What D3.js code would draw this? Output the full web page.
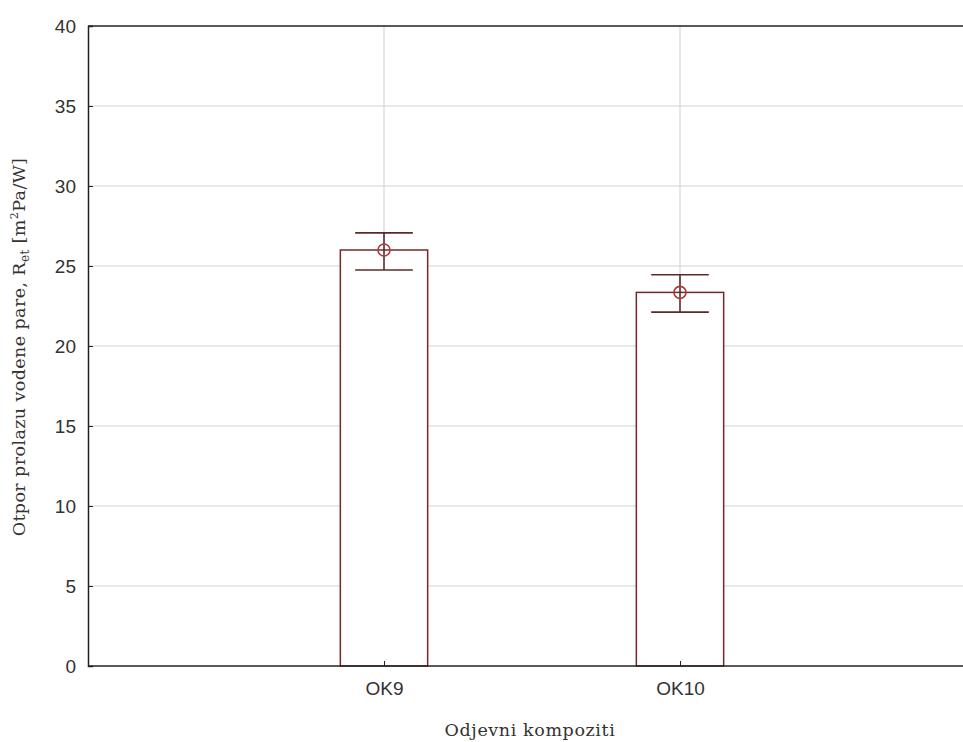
<!DOCTYPE html>
<html><head><meta charset="utf-8">
<script src="https://cdn.jsdelivr.net/npm/d3@7"></script>
<style>body{margin:0;background:#fff}svg{display:block}</style>
</head><body>
<svg id="c" width="963" height="742"></svg>
<script>
const categories = ["OK9", "OK10"];
const means = [26.0, 23.35];
const upper = [27.07, 24.45];
const lower = [24.75, 22.12];
const yTicks = [0, 5, 10, 15, 20, 25, 30, 35, 40];

(function () {
const svg = d3.select("#c");
const W = 963, H = 742;
const mLeft = 88, mTop = 26, mBottom = 666, mRight = 976;
const y = d3.scaleLinear().domain([0, 40]).range([mBottom, mTop]);
const x = d3.scalePoint().domain(categories).range([mLeft, mRight]).padding(1);
const step = x.step();
const bw = step * 0.295;
const barCol = "#7a2626", ptCol = "#b03838";

// grid
svg.append("g").selectAll("line").data(yTicks.filter(d => d > 0 && d < 40)).join("line")
  .attr("x1", mLeft).attr("x2", W).attr("y1", d => y(d)).attr("y2", d => y(d))
  .attr("stroke", "#d4d4d4").attr("stroke-width", 1.2);
svg.append("g").selectAll("line").data(categories).join("line")
  .attr("x1", d => x(d)).attr("x2", d => x(d)).attr("y1", mTop).attr("y2", mBottom)
  .attr("stroke", "#d4d4d4").attr("stroke-width", 1.2);

// bars
svg.append("g").selectAll("rect").data(categories).join("rect")
  .attr("x", d => x(d) - bw / 2).attr("width", bw)
  .attr("y", (d, i) => y(means[i])).attr("height", (d, i) => y(0) - y(means[i]))
  .attr("fill", "#fff").attr("stroke", barCol).attr("stroke-width", 1.5);

// error bars
const capW = bw * 0.66;
const eg = svg.append("g").attr("stroke", "#5a2a2a").attr("stroke-width", 1.6);
categories.forEach((c, i) => {
  eg.append("line").attr("x1", x(c)).attr("x2", x(c)).attr("y1", y(upper[i])).attr("y2", y(lower[i]));
  eg.append("line").attr("x1", x(c) - capW / 2).attr("x2", x(c) + capW / 2).attr("y1", y(upper[i])).attr("y2", y(upper[i]));
  eg.append("line").attr("x1", x(c) - capW / 2).attr("x2", x(c) + capW / 2).attr("y1", y(lower[i])).attr("y2", y(lower[i]));
});
svg.append("g").selectAll("circle").data(categories).join("circle")
  .attr("cx", d => x(d)).attr("cy", (d, i) => y(means[i])).attr("r", 6)
  .attr("fill", "none").attr("stroke", ptCol).attr("stroke-width", 1.6);

// frame
svg.append("line").attr("x1", mLeft).attr("x2", W).attr("y1", mTop).attr("y2", mTop).attr("stroke", "#222").attr("stroke-width", 1.5);
svg.append("line").attr("x1", mLeft).attr("x2", W).attr("y1", mBottom).attr("y2", mBottom).attr("stroke", "#222").attr("stroke-width", 1.5);

// axes
const yAxis = d3.axisLeft(y).tickValues(yTicks).tickSize(-5).tickPadding(12);
const gy = svg.append("g").attr("transform", `translate(${mLeft},0)`).call(yAxis);
gy.select(".domain").attr("stroke", "#222").attr("stroke-width", 1.5);
gy.selectAll(".tick line").attr("stroke", "#222");
gy.selectAll("text").attr("font-family", "Liberation Sans, Arial, sans-serif").attr("font-size", 19).attr("fill", "#333");

const xAxis = d3.axisBottom(x).tickSize(-5).tickPadding(16);
const gx = svg.append("g").attr("transform", `translate(0,${mBottom})`).call(xAxis);
gx.select(".domain").remove();
gx.selectAll(".tick line").attr("stroke", "#222");
gx.selectAll("text").attr("font-family", "Liberation Sans, Arial, sans-serif").attr("font-size", 19).attr("fill", "#333");

// titles
svg.append("text").attr("x", 530).attr("y", 736).attr("text-anchor", "middle")
  .attr("font-family", "DejaVu Serif, serif").attr("font-size", 17.5).attr("letter-spacing", 0.6).attr("fill", "#333")
  .text("Odjevni kompoziti");
const yt = svg.append("text").attr("transform", "translate(25,347) rotate(-90)").attr("text-anchor", "middle")
  .attr("font-family", "DejaVu Serif, serif").attr("font-size", 17.5).attr("letter-spacing", 0.4).attr("fill", "#333");
yt.append("tspan").text("Otpor prolazu vodene pare, R");
yt.append("tspan").attr("font-size", 12).attr("dy", 4).text("et");
yt.append("tspan").attr("dy", -4).text(" [m");
yt.append("tspan").attr("font-size", 11).attr("dy", -7).text("2");
yt.append("tspan").attr("dy", 7).text("Pa/W]");
})();
</script>
</body></html>
